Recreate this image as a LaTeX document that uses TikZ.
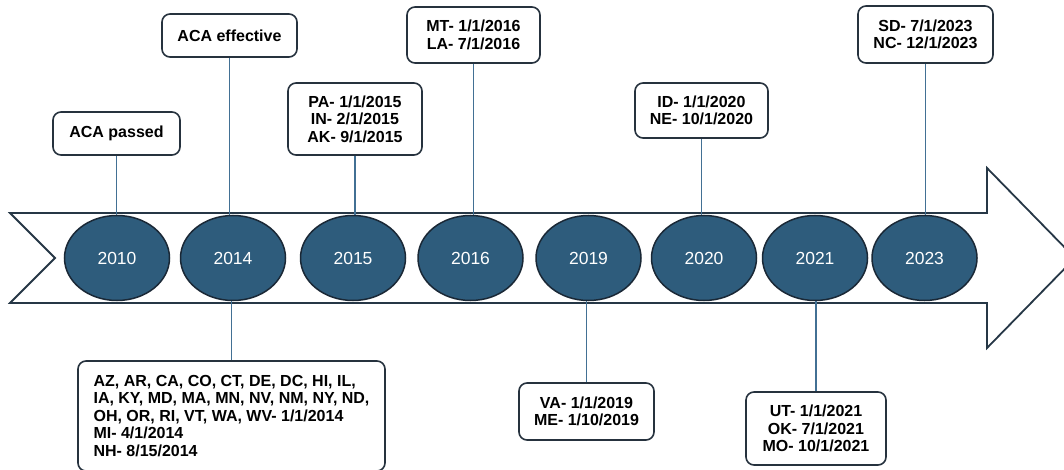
\documentclass[tikz,border=0pt]{standalone}
\usepackage{fontspec}
\setmainfont{Liberation Sans}
\usetikzlibrary{shapes.geometric}
\definecolor{ellfill}{RGB}{46,92,124}
\definecolor{ellline}{RGB}{26,40,54}
\definecolor{arrline}{RGB}{38,55,70}
\definecolor{conline}{RGB}{66,112,148}
\definecolor{boxline}{RGB}{38,50,62}
\begin{document}
\begin{tikzpicture}[x=1pt,y=-1pt,
 yearnode/.style={ellipse, draw=ellline, line width=1.5pt, fill=ellfill, minimum width=105pt, minimum height=85pt, inner sep=0pt, text=white, font=\fontsize{17.5}{20}\selectfont},
 infobox/.style={draw=boxline, line width=1.6pt, rounded corners=8pt, fill=white, align=center, inner sep=0pt, font=\bfseries\fontsize{16}{17.5}\selectfont},
 conn/.style={draw=conline, line width=1.6pt},
 timearrow/.style={draw=arrline, line width=1.8pt, fill=white, line join=miter}]
\useasboundingbox (0,0) rectangle (1064,470);
\clip (0,0) rectangle (1064,470);
% main arrow
\draw[timearrow] (10,213) -- (987,213) -- (987,168) -- (1075,258) -- (987,348) -- (987,303) -- (10,303) -- (55,258) -- cycle;
% year ellipses
\node[yearnode] (e10) at (117,258) {2010};
\node[yearnode] (e14) at (233,258) {2014};
\node[yearnode] (e15) at (353,258) {2015};
\node[yearnode] (e16) at (470.5,258) {2016};
\node[yearnode] (e19) at (588.5,258) {2019};
\node[yearnode] (e20) at (704,258) {2020};
\node[yearnode] (e21) at (815,258) {2021};
\node[yearnode] (e23) at (924.5,258) {2023};
% boxes
\node[infobox, minimum width=127pt, minimum height=43pt] (b10) at (116.5,133.5) {ACA passed};
\node[infobox, minimum width=135pt, minimum height=43pt] (b14t) at (229.5,35.5) {ACA effective};
\node[infobox, minimum width=134pt, minimum height=72pt] (b15) at (355,119) {PA- 1/1/2015\\IN- 2/1/2015\\AK- 9/1/2015};
\node[infobox, minimum width=133pt, minimum height=56pt] (b16) at (473.5,35) {MT- 1/1/2016\\LA- 7/1/2016};
\node[infobox, minimum width=133pt, minimum height=55pt] (b20) at (701.5,110.5) {ID- 1/1/2020\\NE- 10/1/2020};
\node[infobox, minimum width=135pt, minimum height=57pt] (b23) at (925.5,34.5) {SD- 7/1/2023\\NC- 12/1/2023};
\node[infobox, minimum width=135pt, minimum height=57pt] (b19) at (586.5,411.5) {VA- 1/1/2019\\ME- 1/10/2019};
\node[infobox, minimum width=140pt, minimum height=73pt] (b21) at (816,428.5) {UT- 1/1/2021\\OK- 7/1/2021\\MO- 10/1/2021};
\node[infobox, minimum width=307pt, minimum height=110pt, align=left] (b14b) at (231.5,416) {AZ, AR, CA, CO, CT, DE, DC, HI, IL,\\IA, KY, MD, MA, MN, NV, NM, NY, ND,\\OH, OR, RI, VT, WA, WV- 1/1/2014\\MI- 4/1/2014\\NH- 8/15/2014};
% connectors
\draw[conn] (b10.south) -- (b10.south |- e10.north);
\draw[conn] (b14t.south) -- (b14t.south |- e14.north);
\draw[conn] (b15.south) -- (b15.south |- e15.north);
\draw[conn] (b16.south) -- (b16.south |- e16.north);
\draw[conn] (b20.south) -- (b20.south |- e20.north);
\draw[conn] (b23.south) -- (b23.south |- e23.north);
\draw[conn] (b14b.north) -- (b14b.north |- e14.south);
\draw[conn] (b19.north) -- (b19.north |- e19.south);
\draw[conn] (b21.north) -- (b21.north |- e21.south);
\end{tikzpicture}
\end{document}
